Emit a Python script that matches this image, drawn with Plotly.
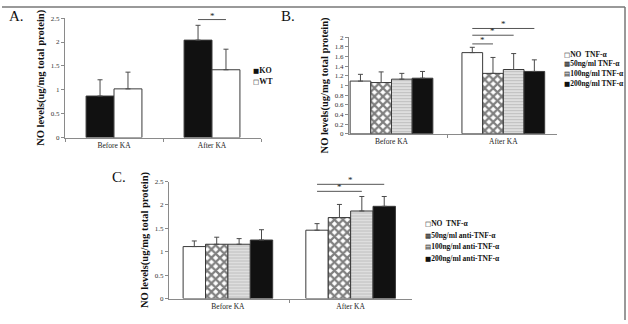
import plotly.graph_objects as go

# ---------------- data ----------------
categories = ["Before KA", "After KA"]

a_names = ["KO", "WT"]
a_values = [[0.87, 2.04], [1.02, 1.42]]
a_errors = [[0.34, 0.31], [0.35, 0.43]]

b_names = ["NO  TNF-α", "50ng/ml TNF-α", "100ng/ml TNF-α", "200ng/ml TNF-α"]
b_values = [[1.09, 1.68], [1.06, 1.25], [1.13, 1.33], [1.15, 1.29]]
b_errors = [[0.14, 0.11], [0.22, 0.33], [0.12, 0.33], [0.14, 0.24]]

c_names = ["NO  TNF-α", "50ng/ml anti-TNF-α", "100ng/ml anti-TNF-α", "200ng/ml anti-TNF-α"]
c_values = [[1.11, 1.46], [1.16, 1.73], [1.16, 1.87], [1.25, 1.97]]
c_errors = [[0.12, 0.14], [0.15, 0.28], [0.12, 0.31], [0.22, 0.21]]

a_ticks = [0, 0.5, 1, 1.5, 2, 2.5]
a_ticklabels = ["0", "0.5", "1", "1.5", "2", "2.5"]
b_ticks = [0, 0.2, 0.4, 0.6, 0.8, 1, 1.2, 1.4, 1.6, 1.8, 2]
b_ticklabels = ["0", "0.2", "0.4", "0.6", "0.8", "1", "1.2", "1.4", "1.6", "1.8", "2"]
c_ticks = [0, 0.5, 1, 1.5, 2, 2.5]
c_ticklabels = ["0", "0.5", "1", "1.5", "2", "2.5"]

# significance brackets: (category index, bar i, bar j, level)
a_sig = [(1, 0, 1, 2.47)]
b_sig = [(1, 0, 1, 1.86), (1, 0, 2, 2.04), (1, 0, 3, 2.18)]
c_sig = [(1, 0, 2, 2.29), (1, 0, 3, 2.44)]

y_title = "NO levels(ug/mg total protein)"

# ---------------- styles ----------------
FONT = "Liberation Serif"
W, H = 628, 324
def px(x): return x / W
def py(y): return 1 - y / H

STYLE = {
    "white": dict(color="white"),
    "black": dict(color="#111111"),
    "check": dict(color="white", pattern=dict(shape="x", fgcolor="#000000", bgcolor="white",
                                              size=6, solidity=0.6)),
    "lines": dict(color="#d4d4d4", pattern=dict(shape="-", fgcolor="#a0a0a0", bgcolor="#dedede",
                                                size=3, solidity=0.35)),
}

panels = [
    dict(names=a_names, values=a_values, errors=a_errors, styles=["black", "white"],
         xa="x", ya="y", group=0.57, xrange=[-0.5, 1.5], yrange=[0, 2.5],
         xdom=[px(65), px(261)], ydom=[py(137), py(14.5)],
         ticks=a_ticks, ticklabels=a_ticklabels, sig=a_sig),
    dict(names=b_names, values=b_values, errors=b_errors, styles=["white", "check", "lines", "black"],
         xa="x2", ya="y2", group=0.74, xrange=[-0.38, 1.48], yrange=[0, 2],
         xdom=[px(349), px(557)], ydom=[py(133), py(34)],
         ticks=b_ticks, ticklabels=b_ticklabels, sig=b_sig),
    dict(names=c_names, values=c_values, errors=c_errors, styles=["white", "check", "lines", "black"],
         xa="x3", ya="y3", group=0.73, xrange=[-0.48, 1.5], yrange=[0, 2.5],
         xdom=[px(169), px(412)], ydom=[py(302), py(182)],
         ticks=c_ticks, ticklabels=c_ticklabels, sig=c_sig),
]

fig = go.Figure()
shapes = []
annotations = []

for p in panels:
    n = len(p["names"])
    bw = p["group"] / n
    for i, (name, vals, errs, st) in enumerate(zip(p["names"], p["values"], p["errors"], p["styles"])):
        marker = dict(STYLE[st])
        marker["line"] = dict(color="#3a3a3a", width=1)
        fig.add_trace(go.Bar(
            x=categories, y=vals, name=name, xaxis=p["xa"], yaxis=p["ya"],
            width=bw, offset=-p["group"] / 2 + i * bw,
            marker=marker, showlegend=False,
            error_y=dict(type="data", array=errs, arrayminus=[0] * len(errs), symmetric=False,
                         color="#4a4a4a", thickness=1, width=2.5),
        ))
    # significance brackets
    r0, r1 = p["xrange"]
    y0, y1 = p["yrange"]
    for (cat, i, j, lev) in p["sig"]:
        ci = cat + (-p["group"] / 2 + (i + 0.5) * bw)
        cj = cat + (-p["group"] / 2 + (j + 0.5) * bw)
        fx0 = (ci - r0) / (r1 - r0)
        fx1 = (cj - r0) / (r1 - r0)
        fy = (lev - y0) / (y1 - y0)
        shapes.append(dict(type="line", xref=p["xa"] + " domain", yref=p["ya"] + " domain",
                           x0=fx0, x1=fx1, y0=fy, y1=fy, line=dict(color="#555", width=1)))
        annotations.append(dict(text="*", xref=p["xa"] + " domain", yref=p["ya"] + " domain",
                                x=(fx0 + fx1) / 2, y=fy, xanchor="center", yanchor="bottom",
                                showarrow=False, font=dict(family=FONT, size=9, color="#222"),
                                yshift=-3))

    axis_common = dict(showline=True, linecolor="#8a8a8a", linewidth=1, showgrid=False,
                       zeroline=False, mirror=False)
    xkey = "xaxis" + p["xa"][1:]
    ykey = "yaxis" + p["ya"][1:]
    fig.update_layout({
        xkey: dict(axis_common, domain=p["xdom"], range=p["xrange"], anchor=p["ya"],
                   type="category", ticks="outside", tickson="boundaries", ticklen=3,
                   tickcolor="#8a8a8a", tickfont=dict(family=FONT, size=7.5, color="#222")),
        ykey: dict(axis_common, domain=p["ydom"], range=p["yrange"], anchor=p["xa"],
                   tickmode="array", tickvals=p["ticks"], ticktext=p["ticklabels"],
                   ticks="outside", ticklen=3, tickcolor="#8a8a8a",
                   tickfont=dict(family=FONT, size=7, color="#333"),
                   title=dict(text=y_title, standoff=4,
                              font=dict(family=FONT, size=10.5, color="#111", weight="bold"))),
    })

# ---------------- legends (text-style, as in the source) ----------------
GLYPH = '<span style="font-family:DejaVu Sans;font-weight:normal;font-size:6.5px">%s</span>'
legend_defs = [
    (["■", "□"], a_names, 251, [68, 79], 8),
    (["□", "▩", "▤", "■"], b_names, 562, [52, 61.5, 71, 81], 7.5),
    (["□", "▩", "▤", "■"], c_names, 423, [225, 237, 249, 261], 7.5),
]
for glyphs, names, x, ys, fs in legend_defs:
    for g, nm, yy in zip(glyphs, names, ys):
        annotations.append(dict(text=(GLYPH % g) + nm, xref="paper", yref="paper", x=px(x), y=py(yy),
                                xanchor="left", yanchor="middle", showarrow=False,
                                font=dict(family=FONT, size=fs, color="#111", weight="bold")))

# panel letters
for lab, x, y in [("A.", 7, 12), ("B.", 279, 12), ("C.", 110, 177)]:
    annotations.append(dict(text=lab, xref="paper", yref="paper", x=px(x), y=py(y),
                            xanchor="left", yanchor="middle", showarrow=False,
                            font=dict(family=FONT, size=15, color="#111")))

# outer frame lines
shapes.append(dict(type="line", xref="paper", yref="paper", x0=px(2), x1=px(625), y0=py(3), y1=py(3),
                   line=dict(color="#777", width=1.5)))
shapes.append(dict(type="line", xref="paper", yref="paper", x0=px(625), x1=px(625), y0=py(3), y1=py(324),
                   line=dict(color="#777", width=1.5)))

fig.update_layout(
    width=W, height=H, margin=dict(l=0, r=0, t=0, b=0),
    paper_bgcolor="white", plot_bgcolor="white",
    barmode="overlay", showlegend=False,
    shapes=shapes, annotations=annotations,
    font=dict(family=FONT),
)

fig.write_html("out.html")
